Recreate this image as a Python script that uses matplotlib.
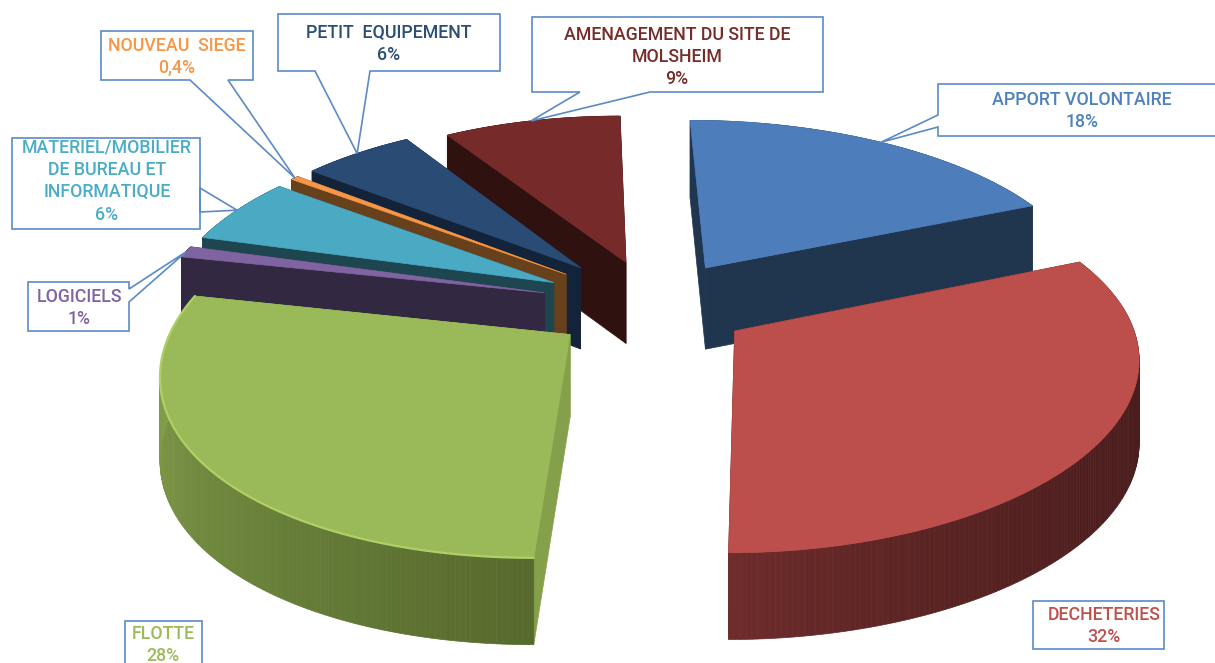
import numpy as np
import matplotlib
matplotlib.use("Agg")
import matplotlib.pyplot as plt
from matplotlib.patches import Polygon

categories = ["APPORT VOLONTAIRE", "DECHETERIES", "FLOTTE", "LOGICIELS",
              "MATERIEL/MOBILIER\nDE BUREAU ET\nINFORMATIQUE", "NOUVEAU  SIEGE",
              "PETIT  EQUIPEMENT", "AMENAGEMENT DU SITE DE\nMOLSHEIM"]
# slice sizes as measured on the picture, the printed labels are rounded
values = [18.8, 31.6, 28.6, 1, 6, 0.4, 5.6, 8.8]
pct_labels = ["18%", "32%", "28%", "1%", "6%", "0,4%", "6%", "9%"]
explode = [0.255, 0.255, 0.255, 0.285, 0.285, 0.285, 0.285, 0.255]

top_colors = ["#4d7ebb", "#bc4e4b", "#9aba59", "#7f64a1", "#4aa9c3", "#f79646", "#2a4b74", "#772a2a"]
text_colors = ["#4f81bd", "#c0504d", "#9bbb59", "#8064a2", "#4bacc6", "#f79646", "#2c4d75", "#772c2a"]
wall_start = ["#20364f", "#4a1d1d", "#566a2d", "#322842", "#1e4650", "#67401c", "#12233a", "#2f1110"]
wall_end = ["#20364f", "#6e2c2b", "#8aa64e", "#322842", "#1e4650", "#67401c", "#12233a", "#2f1110"]
wall_power = [1, 3, 1, 1, 1, 1, 1, 1]
side_colors = ["#20364f", "#4a1d1d", "#85a04a", "#322842", "#1e4650", "#67401c", "#12233a", "#2f1110"]
draw_order = [7, 6, 5, 4, 3, 2, 0, 1]

# callout boxes in pixels: left, top, right, bottom, then the two points where the spike leaves the box
boxes = [
    (938, 84, 1225, 136, (938, 115), (938, 127)),
    (1033, 601, 1164, 649, (1087, 601), (1055, 601)),
    (125, 621, 202, 680, (188, 621), (170, 621)),
    (28, 282, 129, 331, (129, 302), (129, 289)),
    (12, 138, 200, 229, (200, 188), (200, 212)),
    (101, 31, 253, 80, (228, 80), (190, 80)),
    (278, 14, 500, 71, (370, 71), (315, 71)),
    (532, 17, 823, 92, (650, 92), (580, 92)),
]
text_xy = [(1082, 111), (1104, 626), (163, 645), (79, 308), (107, 181), (177, 57), (389, 44), (677, 57)]

X0, Y0 = 651, 305
AX, AY = 391, 180
SHEAR, BEND, PERSP = 7, -10, 0.15
DEPTH = 82


def project(u, v, low=False):
    s = 1 / (1 + PERSP * v)
    down = DEPTH * s ** 0.3 if low else 0
    return X0 + s * (AX * u + SHEAR * v) + BEND * v * v, Y0 - AY * v * s + down


def wedge(ax, i, a0, a1):
    mid = (a0 + a1) / 2
    ou, ov = explode[i] * np.sin(mid), explode[i] * np.cos(mid)
    t = np.linspace(a0, a1, 160)
    u, v = ou + np.sin(t), ov + np.cos(t)
    x, y = project(u, v)
    xb, yb = project(u, v, True)
    ax_, ay_ = project(ou, ov)
    axb, ayb = project(ou, ov, True)

    # radial walls
    for k in (0, -1):
        ax.add_patch(Polygon([(ax_, ay_), (x[k], y[k]), (xb[k], yb[k]), (axb, ayb)],
                             fc=side_colors[i], ec=side_colors[i], lw=0.5))
    # outer wall, shaded strip by strip
    c0 = np.array(matplotlib.colors.to_rgb(wall_start[i]))
    c1 = np.array(matplotlib.colors.to_rgb(wall_end[i]))
    for k in range(len(t) - 1):
        col = c0 + (c1 - c0) * (k / (len(t) - 2)) ** wall_power[i]
        ax.add_patch(Polygon([(x[k], y[k]), (x[k + 1], y[k + 1]), (xb[k + 1], yb[k + 1]), (xb[k], yb[k])],
                             fc=col, ec=col, lw=0.5))
    # top
    ax.add_patch(Polygon(np.column_stack([np.r_[ax_, x], np.r_[ay_, y]]),
                         fc=top_colors[i], ec=top_colors[i], lw=0.5))
    if i == 2:
        ax.plot(x, y, color="#afd065", lw=1.6, solid_capstyle="round")
    return project(ou + np.sin(mid), ov + np.cos(mid))


def callout(ax, box, tip):
    left, top, right, bottom, p0, p1 = box
    # walk round the box clockwise and put the spike in where its side comes up
    pts = [(left, top), (right, top)]
    if p0[0] == right:
        pts += [p1, tip, p0]
    pts.append((right, bottom))
    if p0[1] == bottom:
        pts += [p0, tip, p1]
    pts.append((left, bottom))
    if p0[0] == left:
        pts += [p1, tip, p0]
    ax.add_patch(Polygon(pts, fc="white", ec="#5b8ac6", lw=1.2, zorder=5))


def main():
    fig = plt.figure(figsize=(12.15, 6.63), dpi=100)
    ax = fig.add_axes([0, 0, 1, 1])
    ax.set_xlim(0, 1215)
    ax.set_ylim(663, 0)
    ax.axis("off")

    edges = np.r_[0, np.cumsum(values)] / sum(values) * 2 * np.pi
    tips = {}
    for i in draw_order:
        tips[i] = wedge(ax, i, edges[i], edges[i + 1])

    for i, box in enumerate(boxes):
        callout(ax, box, tips[i])
        ax.text(text_xy[i][0], text_xy[i][1], categories[i] + "\n" + pct_labels[i],
                color=text_colors[i], ha="center", va="center", family="Roboto",
                fontsize=12.8, fontweight="medium", linespacing=1.31, zorder=6)

    fig.savefig("out.png", dpi=100)


if __name__ == "__main__":
    main()
